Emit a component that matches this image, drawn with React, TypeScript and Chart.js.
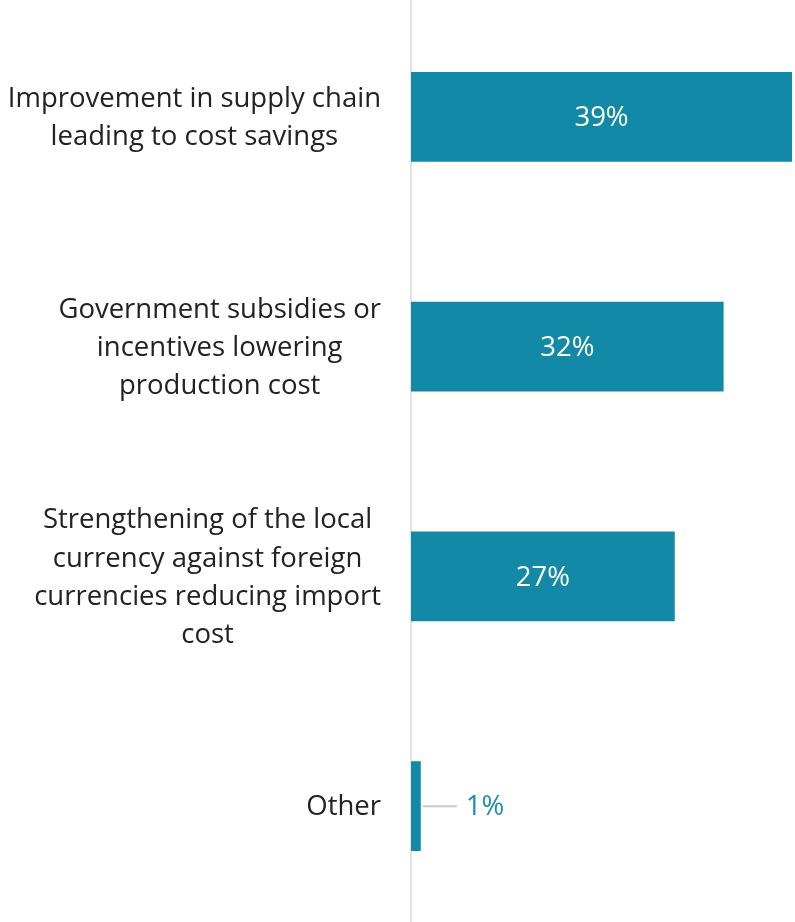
import React, { useEffect, useRef } from "react";
import { Chart, registerables } from "chart.js";

Chart.register(...registerables);

const categories: string[][] = [
  ["Improvement in supply chain", "leading to cost savings"],
  ["Government subsidies or", "incentives lowering", "production cost"],
  ["Strengthening of the local", "currency against foreign", "currencies reducing import", "cost"],
  ["Other"],
];
const values: number[] = [39, 32, 27, 1];

const BAR_COLOR = "#1389a8";
const TEXT_COLOR = "#222222";
const FONT_FAMILY = "'Open Sans', 'Noto Sans', sans-serif";
const FONT_SIZE = 27.5;
const LINE_H = 38.3;
const TEXT_DY = 1.5;
const AXIS_X = 411;
const LABEL_GAP = 30;

export default function App() {
  const ref = useRef<HTMLCanvasElement | null>(null);

  useEffect(() => {
    if (!ref.current) return;
    const labelPlugin = {
      id: "customLabels",
      beforeDatasetsDraw(chart: any) {
        const ctx = chart.ctx;
        const yScale = chart.scales.y;
        ctx.save();
        ctx.strokeStyle = "#e2e2e2";
        ctx.lineWidth = 2;
        ctx.beginPath();
        ctx.moveTo(yScale.right, 0);
        ctx.lineTo(yScale.right, chart.height);
        ctx.stroke();
        ctx.restore();
      },
      afterDatasetsDraw(chart: any) {
        const ctx = chart.ctx;
        const yScale = chart.scales.y;
        ctx.save();
        ctx.font = `400 ${FONT_SIZE}px ${FONT_FAMILY}`;
        ctx.textBaseline = "middle";
        ctx.textAlign = "center";
        ctx.fillStyle = TEXT_COLOR;
        categories.forEach((lines, i) => {
          const yc = yScale.getPixelForValue(i) + TEXT_DY;
          const w = Math.max(...lines.map((l) => ctx.measureText(l).width));
          const cx = yScale.right - LABEL_GAP - w / 2;
          lines.forEach((l, j) => {
            ctx.fillText(l, cx, yc + (j - (lines.length - 1) / 2) * LINE_H);
          });
        });
        const meta = chart.getDatasetMeta(0);
        meta.data.forEach((bar: any, i: number) => {
          const { x, y, base } = bar.getProps(["x", "y", "base"], true);
          const text = `${values[i]}%`;
          if (x - base > 60) {
            ctx.fillStyle = "#ffffff";
            ctx.textAlign = "center";
            ctx.fillText(text, (x + base) / 2, y + TEXT_DY);
          } else {
            ctx.strokeStyle = "#c8c8c8";
            ctx.lineWidth = 2;
            ctx.beginPath();
            ctx.moveTo(x + 2, y);
            ctx.lineTo(x + 36, y);
            ctx.stroke();
            ctx.fillStyle = "#1a8db0";
            ctx.textAlign = "left";
            ctx.fillText(text, x + 45, y + TEXT_DY);
          }
        });
        ctx.restore();
      },
    };

    const chart = new Chart(ref.current, {
      type: "bar",
      data: {
        labels: categories.map((c) => c.join(" ")),
        datasets: [
          {
            data: values,
            backgroundColor: BAR_COLOR,
            borderWidth: 0,
            categoryPercentage: 1,
            barPercentage: 90 / 230,
          },
        ],
      },
      options: {
        indexAxis: "y",
        responsive: false,
        animation: false,
        layout: { padding: { left: 0, right: 3, top: 2, bottom: 1 } },
        plugins: {
          legend: { display: false },
          tooltip: { enabled: false },
        },
        scales: {
          x: { display: false, min: 0, max: 39 },
          y: {
            type: "category",
            grid: { display: false },
            border: { display: false },
            ticks: { display: false },
            afterFit: (s: any) => {
              s.width = AXIS_X;
            },
          },
        },
      },
      plugins: [labelPlugin],
    });
    return () => chart.destroy();
  }, []);

  return (
    <div style={{ position: "absolute", left: 0, top: 0, width: 795, height: 922 }}>
      <canvas ref={ref} width={795} height={922} style={{ width: 795, height: 922, display: "block" }} />
    </div>
  );
}
